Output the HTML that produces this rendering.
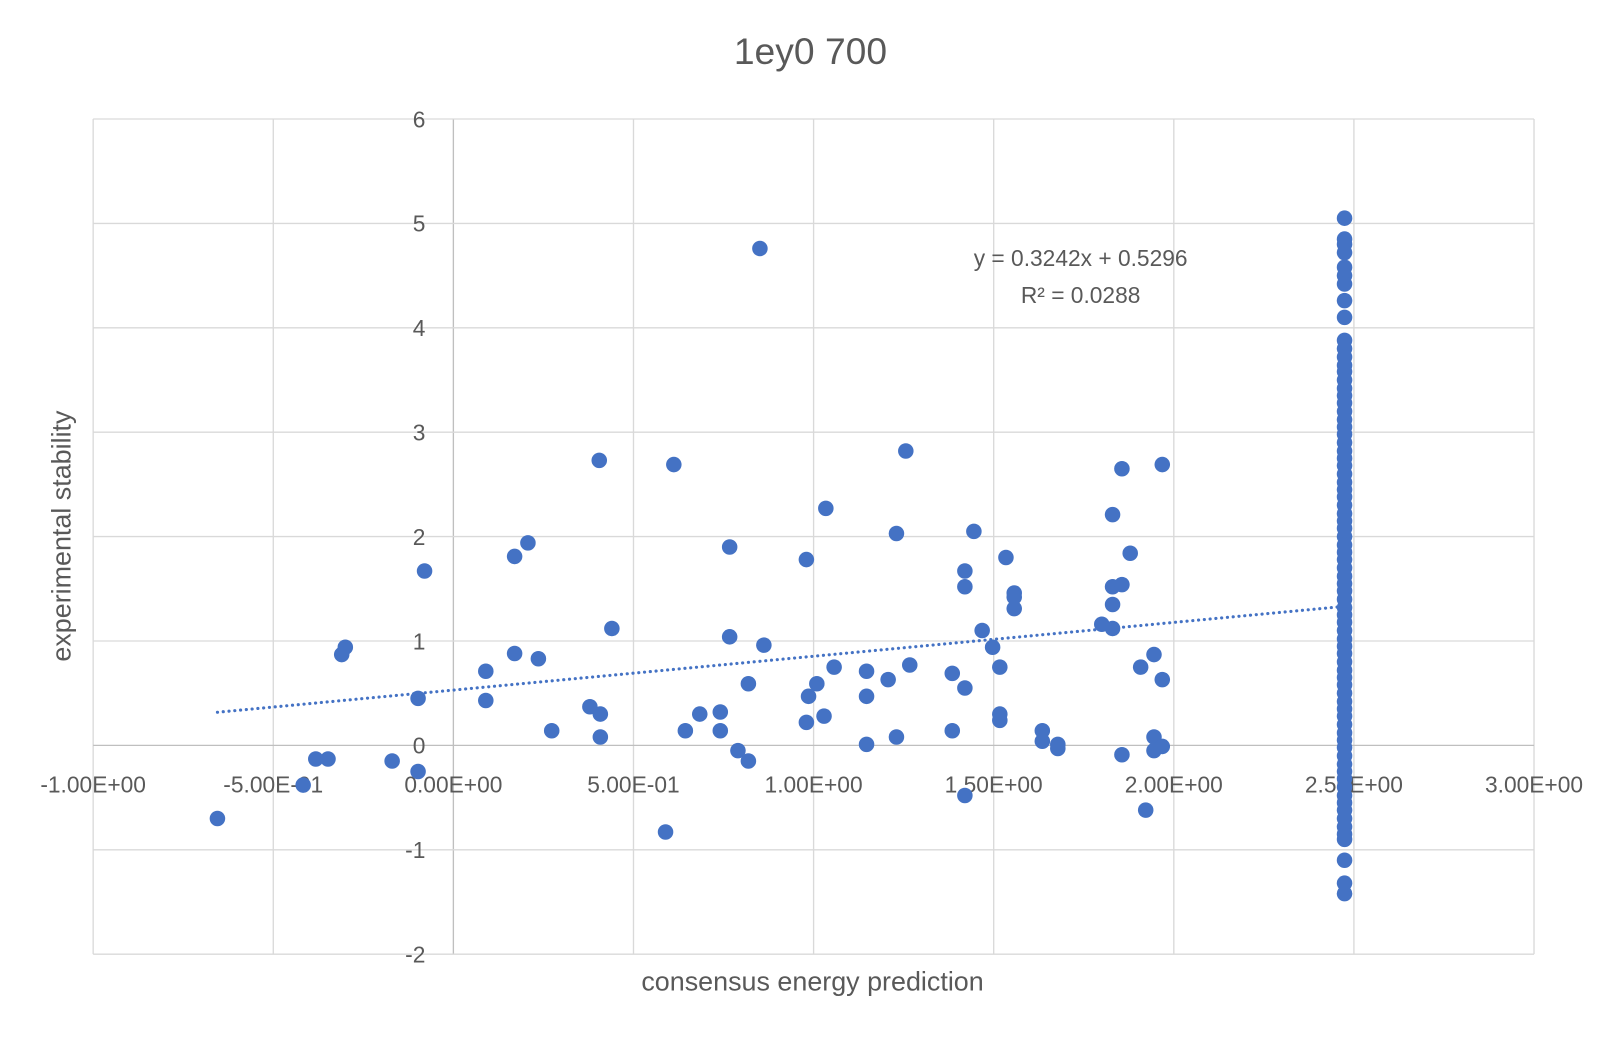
<!DOCTYPE html>
<html><head><meta charset="utf-8"><style>
html,body{margin:0;padding:0;background:#fff;}
svg{display:block;font-family:"Liberation Sans Narrow","Liberation Sans",sans-serif;}
</style></head><body>
<svg id="chart" width="1622" height="1038" viewBox="0 0 1567 1003" preserveAspectRatio="none">
<rect x="0" y="0" width="1567" height="1003" fill="#fff"/>
<g id="grid"></g>
<g id="ticks"></g>
<g id="trend"></g>
<g id="dots"></g>
<text x="783" y="62" text-anchor="middle" font-size="36" fill="#595959">1ey0 700</text>
<text x="785" y="957" text-anchor="middle" font-size="26" fill="#595959">consensus energy prediction</text>
<text transform="translate(68,518) rotate(-90)" text-anchor="middle" font-size="26" fill="#595959">experimental stability</text>
<text x="1044" y="257" text-anchor="middle" font-size="22" fill="#595959">y = 0.3242x + 0.5296</text>
<text x="1044" y="293" text-anchor="middle" font-size="22" fill="#595959">R² = 0.0288</text>
</svg>
<script>
const xTicks=[-1,-0.5,0,0.5,1,1.5,2,2.5,3];
const xTickLabels=["-1.00E+00","-5.00E-01","0.00E+00","5.00E-01","1.00E+00","1.50E+00","2.00E+00","2.50E+00","3.00E+00"];
const yTicks=[-2,-1,0,1,2,3,4,5,6];
const yTickLabels=["-2","-1","0","1","2","3","4","5","6"];
const scatterX=[-0.655,-0.417,-0.382,-0.348,-0.31,-0.30,-0.17,-0.098,-0.098,-0.08,0.09,0.09,0.17,0.17,0.207,0.236,0.273,0.379,0.405,0.408,0.408,0.44,0.589,0.612,0.644,0.684,0.741,0.741,0.767,0.767,0.79,0.819,0.819,0.851,0.862,0.98,0.98,0.986,1.009,1.029,1.034,1.057,1.147,1.147,1.147,1.207,1.23,1.23,1.256,1.267,1.385,1.385,1.42,1.42,1.42,1.42,1.445,1.468,1.497,1.517,1.517,1.517,1.534,1.557,1.557,1.557,1.635,1.635,1.678,1.678,1.80,1.83,1.83,1.83,1.83,1.856,1.856,1.856,1.879,1.908,1.922,1.945,1.945,1.945,1.968,1.968,1.968];
const scatterY=[-0.70,-0.38,-0.13,-0.13,0.87,0.94,-0.15,-0.25,0.45,1.67,0.71,0.43,0.88,1.81,1.94,0.83,0.14,0.37,2.73,0.30,0.08,1.12,-0.83,2.69,0.14,0.30,0.32,0.14,1.90,1.04,-0.05,-0.15,0.59,4.76,0.96,1.78,0.22,0.47,0.59,0.28,2.27,0.75,0.71,0.47,0.01,0.63,2.03,0.08,2.82,0.77,0.69,0.14,1.67,1.52,0.55,-0.48,2.05,1.10,0.94,0.75,0.30,0.24,1.80,1.46,1.42,1.31,0.14,0.04,0.01,-0.03,1.16,2.21,1.52,1.35,1.12,2.65,1.54,-0.09,1.84,0.75,-0.62,0.87,0.08,-0.05,2.69,0.63,-0.01];
const columnX=2.474;
const columnY=[5.05,4.85,4.8,4.72,4.58,4.5,4.42,4.26,4.1,3.88,3.8,3.72,3.64,3.58,3.5,3.42,3.35,3.28,3.2,3.12,3.05,2.98,2.9,2.82,2.75,2.68,2.6,2.52,2.45,2.38,2.3,2.22,2.15,2.08,2.0,1.92,1.85,1.78,1.7,1.62,1.55,1.48,1.4,1.32,1.25,1.18,1.1,1.02,0.95,0.88,0.8,0.72,0.65,0.58,0.5,0.42,0.35,0.28,0.2,0.12,0.05,-0.02,-0.1,-0.18,-0.25,-0.32,-0.4,-0.48,-0.55,-0.62,-0.7,-0.78,-0.85,-0.9,-1.1,-1.32,-1.42];
const trendCoef=[0.3242,0.5296];
const trendRange=[-0.655,2.474];

const NS="http://www.w3.org/2000/svg";
const L=90,R=1482,T=115,B=922;
const sx=v=>L+(v+1)/4*(R-L);
const sy=v=>B-(v+2)/8*(B-T);
function mk(tag,attrs,parent){const e=document.createElementNS(NS,tag);for(const k in attrs)e.setAttribute(k,attrs[k]);parent.appendChild(e);return e;}
const grid=document.getElementById('grid'),ticks=document.getElementById('ticks'),trend=document.getElementById('trend'),dots=document.getElementById('dots');
xTicks.forEach((v,i)=>{
  const ln=mk('line',{x1:sx(v),x2:sx(v),y1:T,y2:B,stroke:v===0?'#bfbfbf':'#d9d9d9','stroke-width':1.3},grid);
  
  
  const t=mk('text',{x:sx(v),y:766,'text-anchor':'middle','font-size':22,fill:'#595959'},ticks);
  t.textContent=xTickLabels[i];
  
  
});
yTicks.forEach((v,i)=>{
  const ln=mk('line',{x1:L,x2:R,y1:sy(v),y2:sy(v),stroke:v===0?'#bfbfbf':'#d9d9d9','stroke-width':1.3},grid);
  
  
  const t=mk('text',{x:411,y:sy(v)+8,'text-anchor':'end','font-size':22,fill:'#595959'},ticks);
  t.textContent=yTickLabels[i];
  
  
});
const tl=mk('line',{x1:sx(trendRange[0]),y1:sy(trendCoef[0]*trendRange[0]+trendCoef[1]),x2:sx(trendRange[1]),y2:sy(trendCoef[0]*trendRange[1]+trendCoef[1]),stroke:'#4472C4','stroke-width':3,'stroke-dasharray':'0.1 5.5','stroke-linecap':'round'},trend);


scatterX.forEach((x,i)=>{
  const c=mk('circle',{cx:sx(x),cy:sy(scatterY[i]),r:7.5,fill:'#4472C4'},dots);
  
  
});
columnY.forEach(y=>{
  const c=mk('circle',{cx:sx(columnX),cy:sy(y),r:7.5,fill:'#4472C4'},dots);
  
  
});
</script>
</body></html>
